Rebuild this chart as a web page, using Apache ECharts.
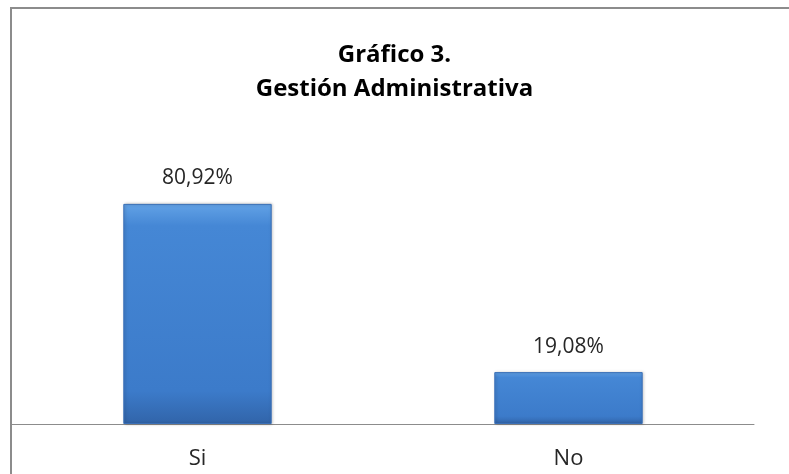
<!DOCTYPE html>
<html>
<head>
<meta charset="UTF-8">
<title>Gráfico 3</title>
<script src="https://cdn.jsdelivr.net/npm/echarts@6/dist/echarts.min.js"></script>
<style>
  html, body { margin: 0; padding: 0; background: #fff; overflow: hidden; }
  #frame {
    position: absolute; left: 10px; top: 7px; width: 900px; height: 600px;
    border-left: 2px solid #8c8c8c; border-top: 2px solid #8c8c8c;
  }
  #chart { position: absolute; left: 0; top: 0; width: 789px; height: 474px; }
</style>
</head>
<body>
<div id="frame"></div>
<div id="chart"></div>
<script>
// datos
const categorias = ['Si', 'No'];
const porcentajes = [80.92, 19.08];

const myChart = echarts.init(document.getElementById('chart'), null, { renderer: 'canvas' });

const barColor = new echarts.graphic.LinearGradient(0, 0, 0, 1, [
    { offset: 0, color: '#62a2e6' },
    { offset: 0.1, color: '#4587d5' },
    { offset: 0.85, color: '#3c7bca' },
    { offset: 1, color: '#3164a9' }
]);

const option = {
    backgroundColor: 'transparent',
    title: {
        text: 'Gráfico 3.\nGestión Administrativa',
        left: 'center',
        top: 33,
        textStyle: {
            fontFamily: 'Open Sans',
            fontWeight: 'bold',
            fontSize: 24,
            lineHeight: 34,
            color: '#000'
        }
    },
    grid: { left: 12, right: 35, top: 152, bottom: 50, containLabel: false },
    xAxis: {
        type: 'category',
        data: categorias,
        axisLine: { lineStyle: { color: '#8c8c8c', width: 1 } },
        axisTick: { show: false },
        axisLabel: {
            margin: 24,
            fontFamily: 'Open Sans',
            fontSize: 22,
            color: '#262626'
        }
    },
    yAxis: {
        type: 'value',
        min: 0,
        max: 100,
        show: false
    },
    series: [{
        type: 'bar',
        data: porcentajes,
        barWidth: '40%',
        itemStyle: {
            color: barColor,
            borderColor: '#3a70b8',
            borderWidth: 1,
            shadowColor: 'rgba(0,0,0,0.25)',
            shadowBlur: 3,
            shadowOffsetX: 1
        },
        label: {
            show: true,
            position: 'top',
            distance: 15,
            fontFamily: 'Open Sans',
            fontSize: 21,
            color: '#262626',
            formatter: p => p.value.toFixed(2).replace('.', ',') + '%'
        }
    }]
};

myChart.setOption(option);
</script>
</body>
</html>
